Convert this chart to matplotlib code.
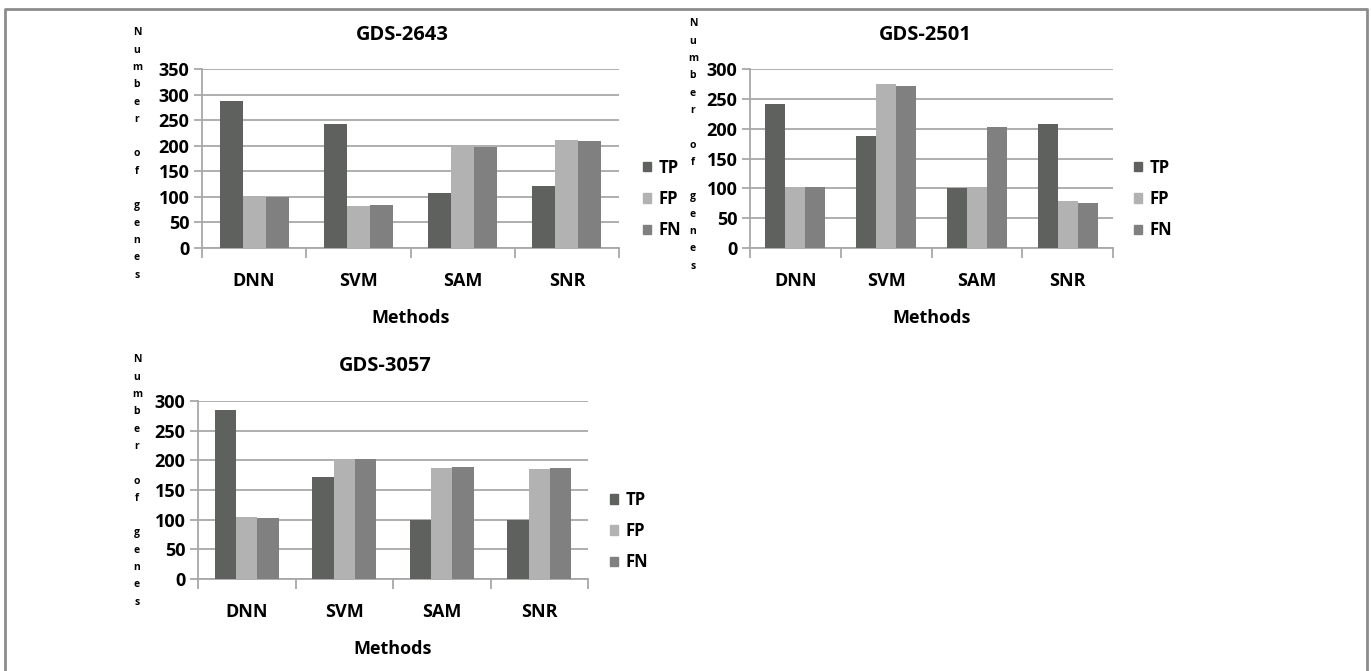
import matplotlib.pyplot as plt
import numpy as np
from matplotlib.patches import Patch
from matplotlib.lines import Line2D

plt.rcParams['font.family'] = ['Open Sans', 'Liberation Sans', 'DejaVu Sans']
plt.rcParams['font.weight'] = 'bold'

methods = ['DNN', 'SVM', 'SAM', 'SNR']
series = ['TP', 'FP', 'FN']
colors = ['#5f615f', '#b2b2b2', '#808080']

gds2643_tp = [287, 242, 107, 122]
gds2643_fp = [100, 83, 200, 212]
gds2643_fn = [100, 85, 197, 210]

gds2501_tp = [241, 187, 100, 207]
gds2501_fp = [103, 275, 100, 78]
gds2501_fn = [102, 272, 202, 76]

gds3057_tp = [284, 172, 100, 100]
gds3057_fp = [104, 200, 187, 185]
gds3057_fn = [102, 202, 189, 187]

W, H = 1371, 671
fig = plt.figure(figsize=(W / 100, H / 100), dpi=100)

grid_col = '#a8a8a8'
ylab = 'N\nu\nm\nb\ne\nr\n\no\nf\n\ng\ne\nn\ne\ns'


def px(x, y):
    return x / W, 1 - y / H


def panel(rect, title, data, ymax, title_xy, ylab_xy, legend_xy):
    l, t, r, b = rect
    ax = fig.add_axes([l / W, 1 - b / H, (r - l) / W, (b - t) / H])
    x = np.arange(len(methods))
    bw = 0.22
    for i, (vals, c) in enumerate(zip(data, colors)):
        ax.bar(x + (i - 1) * bw, vals, bw, color=c, zorder=3, label=series[i])
    ax.set_xlim(-0.5, len(methods) - 0.5)
    ax.set_ylim(0, ymax)
    ax.set_yticks(np.arange(0, ymax + 1, 50))
    ax.yaxis.grid(True, color=grid_col, linewidth=1.3, zorder=0)
    ax.set_xticks(np.arange(-0.5, len(methods)), [''] * (len(methods) + 1))
    ax.set_xticks(x, methods, minor=True)
    ax.tick_params(axis='x', which='major', length=7, color=grid_col, width=1.3, direction='out')
    ax.tick_params(axis='x', which='minor', length=0, pad=17, labelsize=13)
    ax.tick_params(axis='y', length=6, color=grid_col, width=1.3, labelsize=13, pad=3)
    for lab in ax.get_xticklabels(minor=True) + ax.get_yticklabels():
        lab.set_fontweight('bold')
    for s in ['top', 'right']:
        ax.spines[s].set_visible(False)
    for s in ['left', 'bottom']:
        ax.spines[s].set_color(grid_col)
        ax.spines[s].set_linewidth(1.3)
    ax.set_xlabel('Methods', fontsize=13, fontweight='bold', labelpad=14)
    fig.text(*px(*title_xy), title, ha='center', va='center', fontsize=14.5, fontweight='bold')
    fig.text(*px(*ylab_xy), ylab, ha='center', va='center', fontsize=7.5,
             fontweight='bold', linespacing=1.79)
    handles = [Patch(color=c) for c in colors]
    ax.legend(handles, series, loc='center left', frameon=False,
              bbox_to_anchor=px(*legend_xy), bbox_transform=fig.transFigure,
              borderpad=0, borderaxespad=0,
              prop={'size': 12, 'weight': 'bold'}, handlelength=0.5, handleheight=0.5,
              handletextpad=0.45, labelspacing=0.8)
    return ax


panel((202, 69, 619, 248), 'GDS-2643', [gds2643_tp, gds2643_fp, gds2643_fn], 350,
      (402, 35), (137, 154), (643, 199))
panel((750, 69, 1113, 248), 'GDS-2501', [gds2501_tp, gds2501_fp, gds2501_fn], 300,
      (925, 35), (693, 145), (1134, 199))
panel((198, 401, 588, 579), 'GDS-3057', [gds3057_tp, gds3057_fp, gds3057_fn], 300,
      (385, 366), (137, 481), (610, 531))

# outer frame
border = '#8c8c8c'
fig.add_artist(Line2D([5 / W, 5 / W, 1367 / W, 1367 / W], [0, 1 - 9 / H, 1 - 9 / H, 0],
                      transform=fig.transFigure, color=border, linewidth=2))

fig.savefig('out.png', dpi=100)
